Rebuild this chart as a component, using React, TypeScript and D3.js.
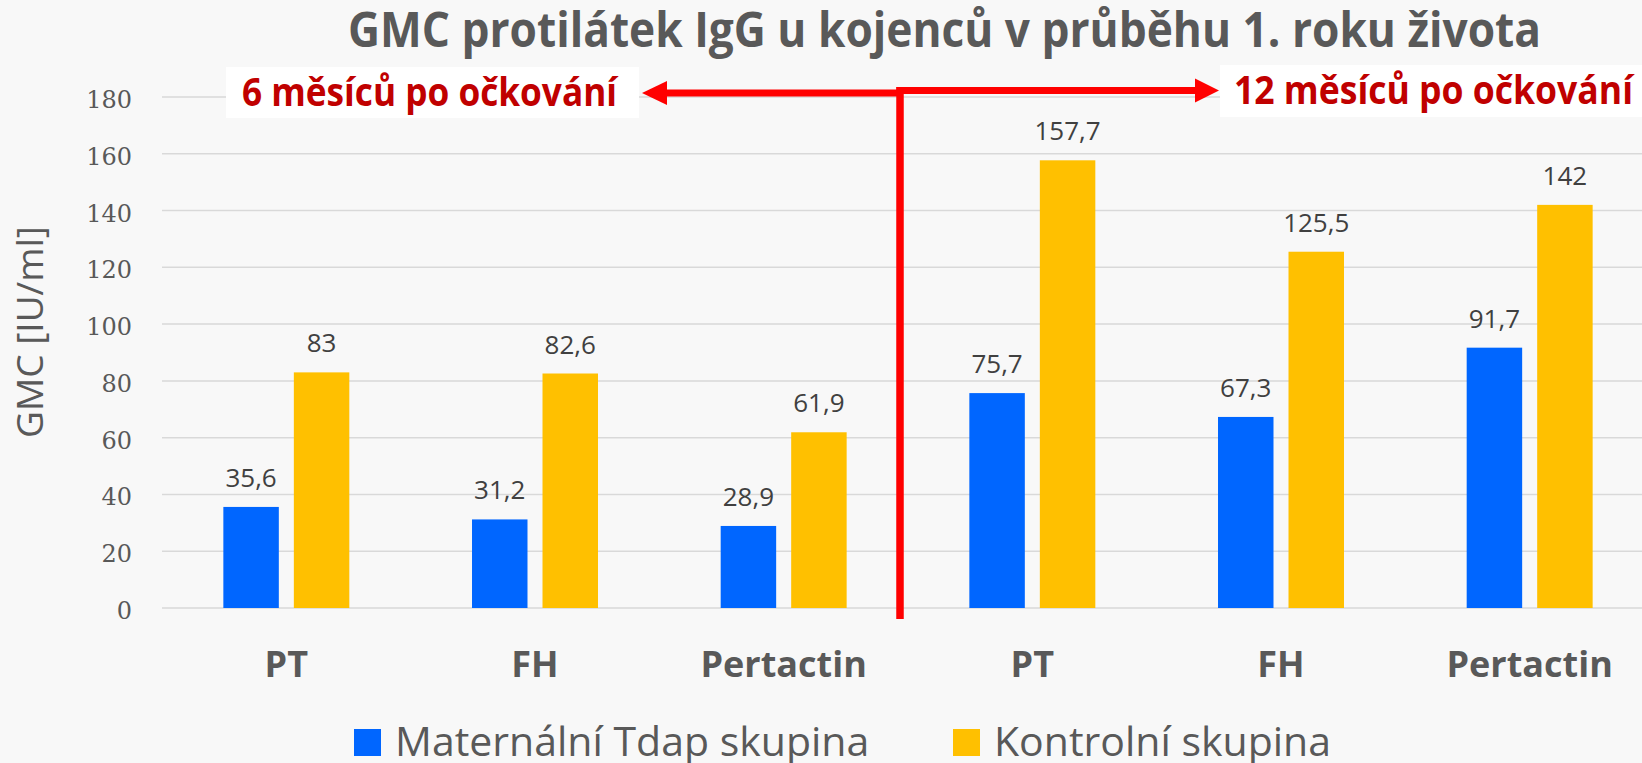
import { scaleBand, scaleLinear, select } from 'd3'
import { useEffect, useRef } from 'react'

const categories = ['PT', 'FH', 'Pertactin', 'PT', 'FH', 'Pertactin']
const maternalValues = [35.6, 31.2, 28.9, 75.7, 67.3, 91.7]
const controlValues = [83, 82.6, 61.9, 157.7, 125.5, 142]
const seriesNames = ['Maternální Tdap skupina', 'Kontrolní skupina']
const yTicks = [0, 20, 40, 60, 80, 100, 120, 140, 160, 180]
const periodLabels = ['6 měsíců po očkování', '12 měsíců po očkování']
const chartTitle = 'GMC protilátek IgG u kojenců v průběhu 1. roku života'
const yAxisTitle = 'GMC [IU/ml]'

const W = 1642
const H = 763
const colors = ['#0066ff', '#ffc000']
const sans = "'Open Sans', sans-serif"
const grey = '#595959'
const red = '#ff0000'
const darkRed = '#c00000'

const fmt = (v: number) => String(v).replace('.', ',')

export default function App() {
  const svgRef = useRef<SVGSVGElement | null>(null)

  useEffect(() => {
    if (!svgRef.current) return
    const svg = select(svgRef.current)
    svg.selectAll('*').remove()

    const x = scaleBand<number>()
      .domain(categories.map((_, i) => i))
      .range([162, 1654])
      .paddingInner(0.4934)
      .paddingOuter(0.2467)
    const xs = scaleBand<number>()
      .domain([0, 1])
      .range([0, x.bandwidth()])
      .paddingInner(0.213)
    const y = scaleLinear().domain([0, 180]).range([608, 97])

    svg.append('rect').attr('width', W).attr('height', H).attr('fill', '#f8f8f8')

    // grid
    svg.append('g')
      .selectAll('line')
      .data(yTicks)
      .join('line')
      .attr('x1', x.range()[0])
      .attr('x2', W)
      .attr('y1', d => y(d))
      .attr('y2', d => y(d))
      .attr('stroke', '#d9d9d9')
      .attr('stroke-width', 1.5)

    // y tick labels
    svg.append('g')
      .selectAll('text')
      .data(yTicks)
      .join('text')
      .attr('x', 132)
      .attr('y', d => y(d) + 11)
      .attr('text-anchor', 'end')
      .attr('font-family', "'DejaVu Serif', serif")
      .attr('font-size', 24)
      .attr('fill', grey)
      .text(d => d)

    // y title
    svg.append('text')
      .attr('transform', `translate(43, ${332}) rotate(-90)`)
      .attr('text-anchor', 'middle')
      .attr('font-family', sans)
      .attr('font-size', 37)
      .attr('fill', grey)
      .text(yAxisTitle)

    // bars + value labels
    const series = [maternalValues, controlValues]
    series.forEach((vals, s) => {
      const g = svg.append('g')
      g.selectAll('rect')
        .data(vals)
        .join('rect')
        .attr('x', (_, i) => (x(i) ?? 0) + (xs(s) ?? 0))
        .attr('y', d => y(d))
        .attr('width', xs.bandwidth())
        .attr('height', d => y(0) - y(d))
        .attr('fill', colors[s])
      g.selectAll('text')
        .data(vals)
        .join('text')
        .attr('x', (_, i) => (x(i) ?? 0) + (xs(s) ?? 0) + xs.bandwidth() / 2)
        .attr('y', d => y(d) - 20)
        .attr('text-anchor', 'middle')
        .attr('font-family', sans)
        .attr('font-size', 26)
        .attr('fill', '#404040')
        .text(d => fmt(d))
    })

    // category labels
    svg.append('g')
      .selectAll('text')
      .data(categories)
      .join('text')
      .attr('x', (_, i) => (x(i) ?? 0) + x.bandwidth() / 2)
      .attr('y', 677)
      .attr('text-anchor', 'middle')
      .attr('font-family', sans)
      .attr('font-weight', 'bold')
      .attr('font-size', 36)
      .attr('fill', grey)
      .text(d => d)

    // title
    svg.append('text')
      .attr('x', 348)
      .attr('y', 47)
      .attr('textLength', 1193)
      .attr('lengthAdjust', 'spacingAndGlyphs')
      .attr('font-family', sans)
      .attr('font-weight', 'bold')
      .attr('font-size', 49)
      .attr('fill', grey)
      .text(chartTitle)

    // period boxes
    const boxes = [
      { x: 226, y: 67, w: 413, h: 51, tx: 242, ty: 106, tw: 375 },
      { x: 1220, y: 65, w: 430, h: 52, tx: 1234, ty: 104, tw: 399 },
    ]
    boxes.forEach((b, i) => {
      svg.append('rect').attr('x', b.x).attr('y', b.y).attr('width', b.w).attr('height', b.h).attr('fill', '#ffffff')
      svg.append('text')
        .attr('x', b.tx)
        .attr('y', b.ty)
        .attr('textLength', b.tw)
        .attr('lengthAdjust', 'spacingAndGlyphs')
        .attr('font-family', sans)
        .attr('font-weight', 'bold')
        .attr('font-size', 40)
        .attr('fill', darkRed)
        .text(periodLabels[i])
    })

    // arrows
    const splitX = 900
    svg.append('line').attr('x1', splitX).attr('x2', 664).attr('y1', 93).attr('y2', 93)
      .attr('stroke', red).attr('stroke-width', 7)
    svg.append('polygon').attr('points', '642,93 667,81 667,105').attr('fill', red)
    svg.append('line').attr('x1', splitX - 3.5).attr('x2', 1197).attr('y1', 90.5).attr('y2', 90.5)
      .attr('stroke', red).attr('stroke-width', 7)
    svg.append('polygon').attr('points', '1219,90.5 1195,78.5 1195,102.5').attr('fill', red)
    svg.append('line').attr('x1', splitX).attr('x2', splitX).attr('y1', 87).attr('y2', 619)
      .attr('stroke', red).attr('stroke-width', 7.5)

    // legend
    const legendX = [354, 953]
    seriesNames.forEach((name, i) => {
      svg.append('rect').attr('x', legendX[i]).attr('y', 729).attr('width', 27).attr('height', 27).attr('fill', colors[i])
      svg.append('text')
        .attr('x', legendX[i] + 41)
        .attr('y', 756)
        .attr('font-family', sans)
        .attr('font-size', 41)
        .attr('fill', grey)
        .text(name)
    })
  }, [])

  return (
    <svg
      ref={svgRef}
      width={W}
      height={H}
      style={{ position: 'absolute', left: 0, top: 0, display: 'block' }}
    />
  )
}
